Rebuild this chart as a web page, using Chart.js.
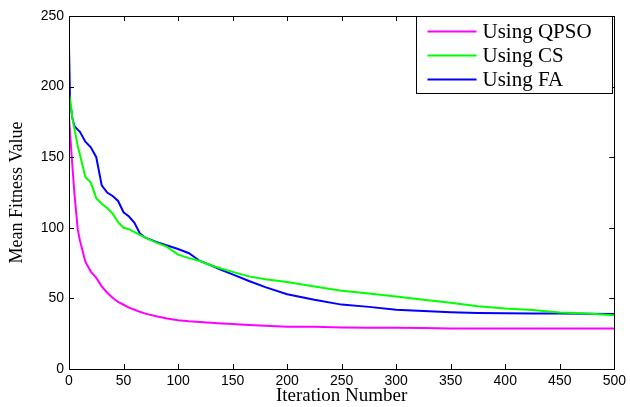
<!DOCTYPE html>
<html>
<head>
<meta charset="utf-8">
<script src="https://cdn.jsdelivr.net/npm/chart.js@4/dist/chart.umd.min.js"></script>
<style>
  html, body { margin: 0; padding: 0; background: #fff; }
  #wrap { width: 630px; height: 407px; }
</style>
</head>
<body>
<div id="wrap"><canvas id="chart" width="630" height="407"></canvas></div>
<script>
// values
const iterations = [0, 1, 2, 3, 5, 8, 10, 15, 20, 25, 30, 35, 40, 45, 50, 55, 60, 65, 70, 80, 90,
  100, 110, 120, 130, 140, 150, 165, 180, 200, 225, 250, 275, 300, 325, 350, 375, 400, 425, 450, 475, 500];
const qpso = [178, 167, 156, 145, 124, 99, 91, 76, 69, 64.5, 58.5, 54, 50.5, 47.5, 45.5, 43.5, 42, 40.5, 39.2, 37.3, 35.8,
  34.6, 33.8, 33.2, 32.7, 32.2, 31.8, 31.2, 30.6, 30, 29.9, 29.4, 29.3, 29.2, 29.1, 28.6, 28.6, 28.6, 28.6, 28.6, 28.6, 28.6];
const cs = [195, 191, 185, 178, 170, 158, 152, 136, 132, 121, 117, 114, 110, 104, 100, 99, 97, 95, 93, 89.5, 86.5,
  81, 78.5, 76.5, 73.5, 71, 68.8, 65.6, 63.5, 61.6, 58.5, 55.5, 53.5, 51.3, 49, 47, 44.5, 42.8, 41.8, 40, 39.3, 38];
const fa = [229, 188, 184, 178, 172, 169.5, 168, 161, 157, 150, 130, 125, 122.5, 119, 111, 108, 103.5, 96, 93, 90, 87.5,
  85, 82, 76.5, 73.5, 70, 67, 62.3, 58, 53, 49, 45.6, 44, 42, 41, 40.2, 39.7, 39.4, 39.3, 39.3, 39.2, 39];
const seriesLabels = ['Using QPSO', 'Using CS', 'Using FA'];
const seriesColors = ['#ff00ff', '#00ff00', '#0000ff'];

const pts = (arr) => arr.map((v, i) => ({ x: iterations[i], y: v }));
const serif = "'Liberation Serif', 'Times New Roman', serif";
const sans = "'Liberation Sans', Arial, sans-serif";

// MATLAB-like frame: box around the axes with ticks pointing inward on all four sides
const framePlugin = {
  id: 'frame',
  afterDraw(chart) {
    const { ctx, chartArea: a, scales: { x, y } } = chart;
    const len = 5;
    ctx.save();
    ctx.strokeStyle = '#000';
    ctx.lineWidth = 1;
    ctx.beginPath();
    x.ticks.forEach((t) => {
      const px = Math.round(x.getPixelForValue(t.value)) + 0.5;
      ctx.moveTo(px, a.bottom); ctx.lineTo(px, a.bottom - len);
      ctx.moveTo(px, a.top); ctx.lineTo(px, a.top + len);
    });
    y.ticks.forEach((t) => {
      const py = Math.round(y.getPixelForValue(t.value)) + 0.5;
      ctx.moveTo(a.left, py); ctx.lineTo(a.left + len, py);
      ctx.moveTo(a.right, py); ctx.lineTo(a.right - len, py);
    });
    ctx.stroke();
    ctx.strokeRect(Math.round(a.left) + 0.5, Math.round(a.top) + 0.5, Math.round(a.right - a.left), Math.round(a.bottom - a.top));
    ctx.restore();
  }
};

// boxed legend in the upper right corner of the axes
const legendPlugin = {
  id: 'boxLegend',
  afterDraw(chart) {
    const { ctx, chartArea: a } = chart;
    const w = 196, h = 77, rowH = 24;
    const bx = Math.round(a.right) - w - 2 + 0.5, by = Math.round(a.top) + 0.5;
    ctx.save();
    ctx.fillStyle = '#fff';
    ctx.fillRect(bx, by, w, h);
    ctx.strokeStyle = '#000';
    ctx.lineWidth = 1;
    ctx.strokeRect(bx, by, w, h);
    ctx.font = '21px ' + serif;
    ctx.textBaseline = 'middle';
    chart.data.datasets.forEach((ds, i) => {
      const cy = by + 15 + i * rowH;
      ctx.strokeStyle = ds.borderColor;
      ctx.lineWidth = 2;
      ctx.beginPath();
      ctx.moveTo(bx + 11, cy); ctx.lineTo(bx + 60, cy);
      ctx.stroke();
      ctx.fillStyle = '#000';
      ctx.fillText(ds.label, bx + 66, cy + 1);
    });
    ctx.restore();
  }
};

new Chart(document.getElementById('chart'), {
  type: 'line',
  data: {
    datasets: [qpso, cs, fa].map((arr, i) => ({
      label: seriesLabels[i], data: pts(arr), borderColor: seriesColors[i], backgroundColor: seriesColors[i],
      borderWidth: 2, pointRadius: 0, tension: 0, fill: false,
    })),
  },
  options: {
    responsive: false, animation: false,
    layout: { padding: { top: 16, right: 15, left: 0, bottom: 0 } },
    plugins: { legend: { display: false }, tooltip: { enabled: false } },
    scales: {
      x: {
        type: 'linear', min: 0, max: 500,
        grid: { display: false, drawTicks: false }, border: { display: false },
        ticks: { stepSize: 50, color: '#000', padding: 4, maxRotation: 0, font: { family: sans, size: 14 } },
        title: { display: true, text: 'Iteration Number', color: '#000', padding: 0, font: { family: serif, size: 19 } },
        afterFit: (s) => { s.height = 38; },
      },
      y: {
        min: 0, max: 250,
        grid: { display: false, drawTicks: false }, border: { display: false },
        ticks: { stepSize: 50, color: '#000', padding: 5, font: { family: sans, size: 14 } },
        title: { display: true, text: 'Mean Fitness Value', color: '#000', padding: { top: 6, bottom: 0 }, font: { family: serif, size: 18 } },
        afterFit: (s) => { s.width = 69; },
      },
    },
  },
  plugins: [framePlugin, legendPlugin],
});
</script>
</body>
</html>
